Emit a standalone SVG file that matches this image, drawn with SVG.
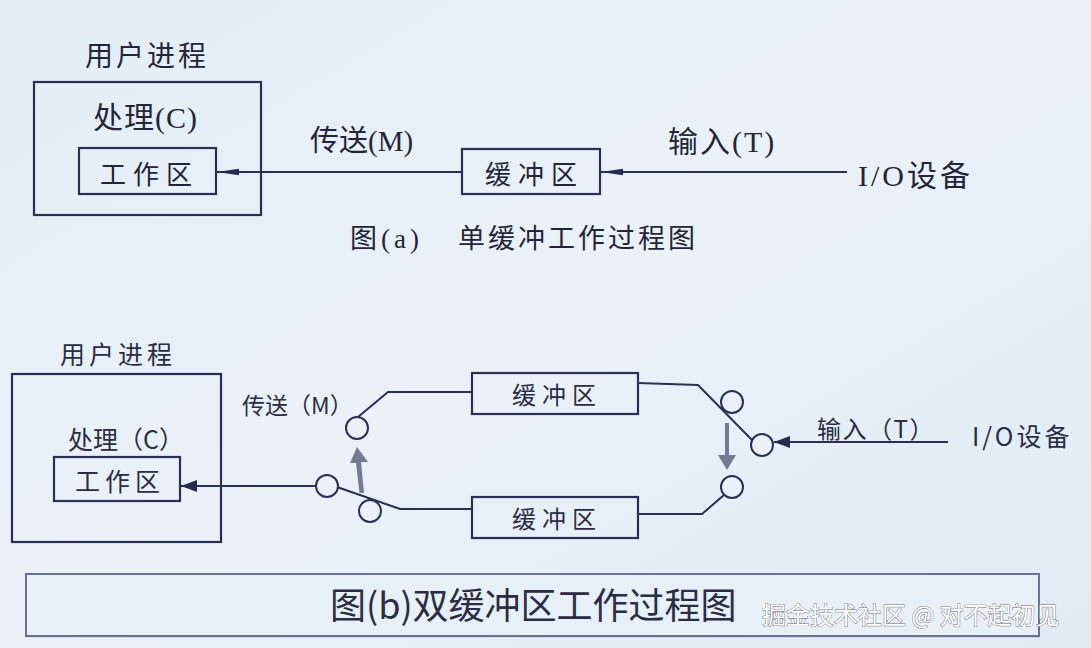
<svg xmlns="http://www.w3.org/2000/svg" width="1091" height="648" viewBox="0 0 1091 648">
<defs>
<linearGradient id="bg" x1="0" y1="0" x2="1" y2="1">
<stop offset="0" stop-color="#e3edf5"/>
<stop offset="0.5" stop-color="#eaf2f8"/>
<stop offset="1" stop-color="#dfeaf3"/>
</linearGradient>
<marker id="ah" viewBox="0 0 22 8" refX="22" refY="4" markerWidth="22" markerHeight="8" markerUnits="userSpaceOnUse" orient="auto">
<path d="M22,4 L0,0.8 L0,7.2 Z" fill="#262b52"/>
</marker>
<marker id="ah2" viewBox="0 0 16 12" refX="16" refY="6" markerWidth="16" markerHeight="12" markerUnits="userSpaceOnUse" orient="auto">
<path d="M16,6 L0,0 L0,12 Z" fill="#262b52"/>
</marker>
<style>
.ln{fill:none;stroke:#2a2f58;stroke-width:2}
.bx{fill:none;stroke:#2a2f58;stroke-width:2.2}
.ci{fill:#eaf2f8;stroke:#2a2f58;stroke-width:2}
.ts{font-family:"Liberation Serif","Noto Sans CJK SC",serif;fill:#23263a}
.tb{font-family:"Noto Sans CJK SC","Liberation Sans",sans-serif;fill:#2a2d45}
.ga{fill:#737a94}
</style>
</defs>
<rect width="1091" height="648" fill="url(#bg)"/>

<!-- Figure (a) -->
<g id="a-process">
<text class="ts" x="85" y="66" font-size="28" letter-spacing="3">用户进程</text>
<rect class="bx" x="34" y="82" width="227" height="133"/>
<text class="ts" x="93" y="128" font-size="30" letter-spacing="1">处理(C)</text>
</g>
<g id="a-work">
<rect class="bx" x="79" y="148" width="137" height="46"/>
<text class="ts" x="100" y="184" font-size="26" letter-spacing="7">工作区</text>
</g>
<g id="a-buffer">
<rect class="bx" x="462" y="149" width="138" height="45"/>
<text class="ts" x="485" y="184" font-size="26" letter-spacing="7">缓冲区</text>
</g>
<g id="a-io">
<text class="ts" x="858" y="186" font-size="30" letter-spacing="3">I/O设备</text>
</g>
<g id="a-connectors">
<line class="ln" x1="462" y1="172" x2="217" y2="172" marker-end="url(#ah)"/>
<line class="ln" x1="847" y1="172" x2="601" y2="172" marker-end="url(#ah)"/>
<text class="ts" x="310" y="151" font-size="29">传送(M)</text>
<text class="ts" x="668" y="152" font-size="30" letter-spacing="2">输入(T)</text>
</g>
<g id="a-caption">
<text class="ts" y="248" font-size="27"><tspan x="350" letter-spacing="4">图(a)</tspan><tspan x="458" letter-spacing="3">单缓冲工作过程图</tspan></text>
</g>

<!-- Figure (b) -->
<g id="b-process">
<text class="tb" x="60" y="364" font-size="25" letter-spacing="4">用户进程</text>
<rect class="bx" x="12" y="374" width="209" height="168"/>
<text class="tb" x="68" y="449" font-size="25">处理（C）</text>
</g>
<g id="b-work">
<rect class="bx" x="54" y="457" width="126" height="44"/>
<text class="tb" x="75" y="491" font-size="25" letter-spacing="5">工作区</text>
</g>
<g id="b-buffer1">
<rect class="bx" x="472" y="373" width="166" height="41"/>
<text class="tb" x="512" y="404" font-size="24" letter-spacing="6">缓冲区</text>
</g>
<g id="b-buffer2">
<rect class="bx" x="472" y="497" width="166" height="41"/>
<text class="tb" x="512" y="528" font-size="24" letter-spacing="6">缓冲区</text>
</g>
<g id="b-io">
<text class="tb" x="972" y="446" font-size="25" letter-spacing="3">I/O设备</text>
</g>
<g id="b-connectors">
<!-- left switch -->
<polyline class="ln" points="358,417 388,392 472,392"/>
<polyline class="ln" points="337,487 400,509 472,509"/>
<line class="ln" x1="316" y1="486" x2="181" y2="486" marker-end="url(#ah2)"/>
<circle class="ci" cx="327" cy="486" r="11"/>
<circle class="ci" cx="357" cy="428" r="11"/>
<circle class="ci" cx="370" cy="511" r="11"/>
<polygon class="ga" points="359.5,493 364,493 361,462 368,462 357,447 350,463 356,463"/>
<!-- right switch -->
<polyline class="ln" points="638,383 698,385 752,440"/>
<polyline class="ln" points="638,514 702,514 724,495"/>
<line class="ln" x1="948" y1="442" x2="774" y2="442" marker-end="url(#ah2)"/>
<circle class="ci" cx="732" cy="402" r="11"/>
<circle class="ci" cx="762" cy="445" r="11"/>
<circle class="ci" cx="732" cy="487" r="11"/>
<polygon class="ga" points="725,423 729,423 729,455 736,455 727,470 718,455 725,455"/>
<text class="tb" x="242" y="414" font-size="23">传送（M）</text>
<text class="tb" x="817" y="438" font-size="24" letter-spacing="1.5">输入（T）</text>
</g>
<g id="b-caption">
<rect x="27" y="576" width="1013" height="62" fill="#b9c3d2" opacity="0.5"/>
<rect x="26" y="574" width="1013" height="62" fill="#e7f0f7" stroke="#6a7192" stroke-width="2"/>
<text class="tb" x="330" y="619" font-size="36" fill="#1e2340">图(b)双缓冲区工作过程图</text>
</g>
<g id="watermark">
<text x="762" y="624" font-family="Noto Sans CJK SC, Liberation Sans, sans-serif" font-size="24" fill="#ffffff" stroke="#6e6e6e" stroke-width="0.9" paint-order="stroke">掘金技术社区 @ 对不起初见</text>
</g>
</svg>
